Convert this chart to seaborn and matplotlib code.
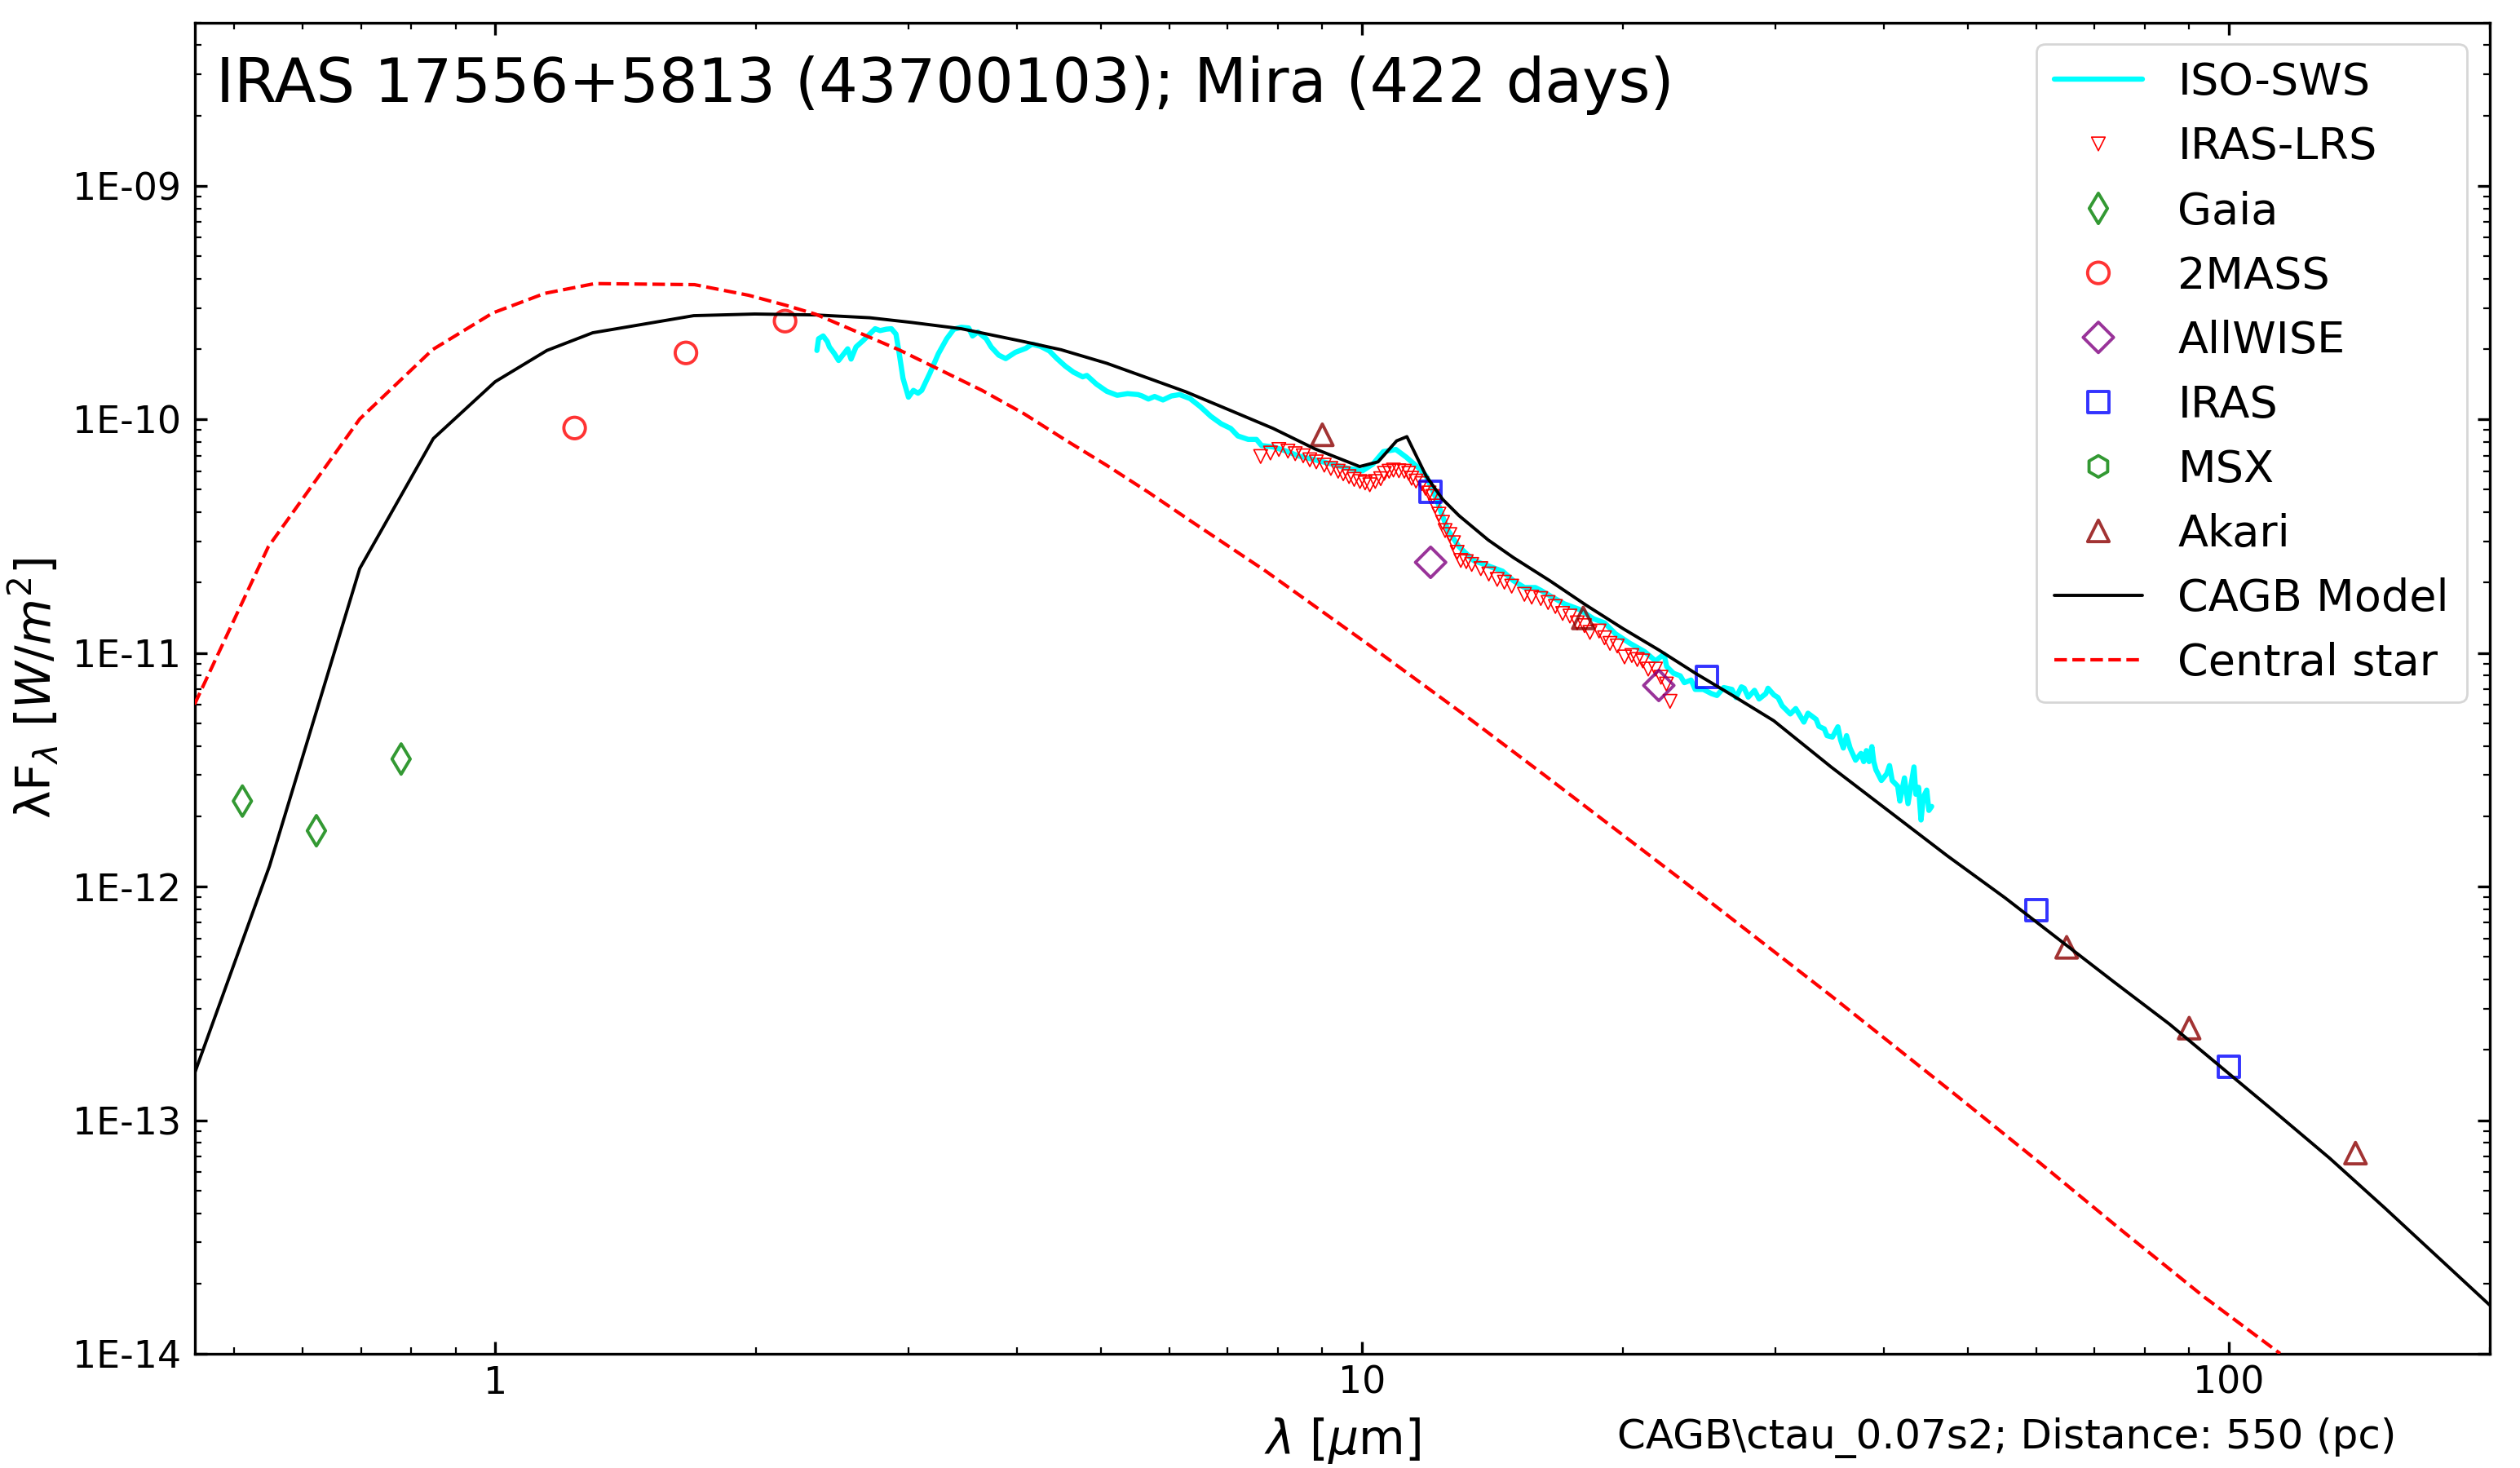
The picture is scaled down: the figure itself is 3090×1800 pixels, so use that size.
import numpy as np
import pandas as pd
import matplotlib
matplotlib.use("Agg")
import matplotlib.pyplot as plt
from matplotlib.ticker import LogLocator, NullFormatter
import seaborn as sns

# all spectra as log10(wavelength / um), log10(flux / W m-2)
iso_loglam = [.3712, .3731, .3784, .3832, .3856, .3914, .3962, .4010, .4067, .4106, .4163, .4250, .4312, .4384, .4441,
              .4513, .4571, .4624, .4657, .4705, .4768, .4825, .4878, .4921, .5017, .5113, .5209, .5291, .5377, .5463,
              .5507, .5569, .5665, .5722, .5809, .5890, .6001, .6121, .6193, .6289, .6394, .6481, .6577, .6672, .6778,
              .6826, .6936, .7056, .7176, .7296, .7416, .7464, .7536, .7608, .7704, .7800, .7896, .8016, .8136, .8256,
              .8376, .8486, .8568, .8688, .8783, .8841, .8975, .9119, .9263, .9455, .9647, .9839, 1.0007, 1.0127, 1.0247,
              1.0391, 1.0511, 1.0655, 1.0741, 1.0783, 1.0867, 1.0909, 1.0993, 1.1119, 1.1287, 1.1455, 1.1622, 1.1748,
              1.1874, 1.2000, 1.2063, 1.2168, 1.2336, 1.2504, 1.2672, 1.2798, 1.2924, 1.3092, 1.3260, 1.3386, 1.3484,
              1.3515, 1.3594, 1.3672, 1.3719, 1.3797, 1.3844, 1.3938, 1.4032, 1.4095, 1.4173, 1.4268, 1.4315, 1.4377,
              1.4409, 1.4456, 1.4528, 1.4581, 1.4659, 1.4684, 1.4753, 1.4800, 1.4847, 1.4941, 1.5004, 1.5098, 1.5145,
              1.5239, 1.5271, 1.5333, 1.5365, 1.5427, 1.5490, 1.5521, 1.5553, 1.5590, 1.5631, 1.5694, 1.5756, 1.5788,
              1.5819, 1.5850, 1.5882, 1.5904, 1.5929, 1.5992, 1.6054, 1.6086, 1.6117, 1.6180, 1.6205, 1.6258, 1.6299,
              1.6368, 1.6390, 1.6421, 1.6449, 1.6477, 1.6515, 1.6540, 1.6572]
iso_logflux = [-9.705, -9.655, -9.643, -9.667, -9.690, -9.719, -9.748, -9.725, -9.698, -9.742, -9.690, -9.661, -9.638,
               -9.612, -9.620, -9.614, -9.612, -9.635, -9.707, -9.824, -9.905, -9.876, -9.888, -9.876, -9.801, -9.719,
               -9.655, -9.614, -9.606, -9.609, -9.643, -9.626, -9.655, -9.690, -9.725, -9.740, -9.713, -9.696, -9.678,
               -9.687, -9.707, -9.740, -9.772, -9.798, -9.818, -9.812, -9.849, -9.880, -9.897, -9.890, -9.894, -9.900,
               -9.913, -9.902, -9.917, -9.900, -9.894, -9.911, -9.946, -9.987, -10.019, -10.039, -10.071, -10.086,
               -10.086, -10.112, -10.118, -10.135, -10.156, -10.173, -10.191, -10.210, -10.220, -10.191, -10.138,
               -10.129, -10.162, -10.208, -10.243, -10.278, -10.348, -10.394, -10.476, -10.545, -10.604, -10.627,
               -10.650, -10.691, -10.720, -10.720, -10.732, -10.755, -10.790, -10.813, -10.854, -10.871, -10.918,
               -10.959, -10.994, -11.034, -11.005, -11.058, -11.087, -11.098, -11.127, -11.116, -11.156, -11.156,
               -11.174, -11.182, -11.148, -11.156, -11.191, -11.145, -11.151, -11.189, -11.160, -11.197, -11.174,
               -11.151, -11.180, -11.191, -11.226, -11.261, -11.238, -11.296, -11.258, -11.284, -11.314, -11.325,
               -11.354, -11.360, -11.316, -11.372, -11.407, -11.354, -11.407, -11.459, -11.430, -11.465, -11.418,
               -11.465, -11.401, -11.465, -11.500, -11.546, -11.517, -11.482, -11.546, -11.570, -11.634, -11.535,
               -11.645, -11.488, -11.605, -11.575, -11.715, -11.616, -11.587, -11.674, -11.657]

lrs_loglam = [.8831, .8944, .9041, .9146, .9230, .9322, .9398, .9473, .9565, .9641, .9725, .9784, .9851, .9910, .9977,
              1.0036, 1.0090, 1.0153, 1.0216, 1.0258, 1.0313, 1.0363, 1.0426, 1.0489, 1.0539, 1.0573, 1.0623, 1.0691,
              1.0733, 1.0774, 1.0816, 1.0846, 1.0888, 1.0930, 1.0959, 1.1014, 1.1056, 1.1098, 1.1140, 1.1203, 1.1266,
              1.1371, 1.1463, 1.1560, 1.1643, 1.1727, 1.1874, 1.1958, 1.2063, 1.2147, 1.2231, 1.2315, 1.2399, 1.2483,
              1.2567, 1.2630, 1.2735, 1.2798, 1.2861, 1.2945, 1.3029, 1.3113, 1.3176, 1.3239, 1.3302, 1.3386, 1.3449,
              1.3512, 1.3554]
lrs_logflux = [-10.159, -10.144, -10.129, -10.136, -10.147, -10.156, -10.173, -10.182, -10.196, -10.210, -10.222,
               -10.233, -10.245, -10.257, -10.266, -10.272, -10.280, -10.266, -10.254, -10.231, -10.222, -10.217,
               -10.220, -10.222, -10.231, -10.252, -10.264, -10.275, -10.295, -10.315, -10.330, -10.371, -10.406,
               -10.441, -10.476, -10.493, -10.528, -10.569, -10.604, -10.609, -10.621, -10.639, -10.662, -10.685,
               -10.697, -10.714, -10.749, -10.761, -10.767, -10.784, -10.801, -10.831, -10.842, -10.871, -10.883,
               -10.912, -10.906, -10.935, -10.959, -10.970, -11.017, -11.011, -11.028, -11.034, -11.069, -11.069,
               -11.104, -11.133, -11.207]

model_loglam = [-.3468, -.2603, -.1562, -.0713, 0.0, .0597, .1125, .2291, .2996, .3698, .4321, .4801, .5377, .6097, .6529,
                .7056, .7536, .7968, .8496, .8976, .9455, .9973, 1.0185, 1.0400, 1.0518, 1.0741, 1.0930, 1.1119, 1.1455,
                1.1748, 1.2168, 1.2588, 1.3008, 1.3428, 1.3847, 1.4267, 1.4750, 1.5412, 1.6755, 1.7418, 1.8674, 1.9313,
                2.0474, 2.1161, 2.1800, 2.3008]
model_logflux = [-12.800, -11.912, -10.6385, -10.0822, -9.8389, -9.7051, -9.6294, -9.5561, -9.5491, -9.553, -9.565,
                 -9.585, -9.612, -9.667, -9.702, -9.760, -9.824, -9.882, -9.964, -10.039, -10.126, -10.202, -10.182,
                 -10.092, -10.074, -10.243, -10.342, -10.412, -10.516, -10.592, -10.691, -10.796, -10.895, -10.988,
                 -11.087, -11.180, -11.290, -11.488, -11.869, -12.048, -12.408, -12.588, -12.947, -13.162, -13.376,
                 -13.791]

star_loglam = [-.3468, -.2617, -.1562, -.0722, -.0027, .0573, .1149, .2300, .2924, .3356, .3698, .4178, .4657, .5137,
               .5617, .6097, .6577, .7056, .7536, .8016, .8496, .8891, 1.0052, 1.1211, 1.2105, 1.3750, 1.5427,
               1.6873, 1.7821, 1.8768, 1.9716, 2.0592]
star_logflux = [-11.22, -10.5454, -9.9984, -9.7016, -9.5445, -9.4607, -9.4188, -9.4234, -9.4688, -9.5119, -9.550,
                -9.626, -9.702, -9.789, -9.876, -9.975, -10.088, -10.197, -10.312, -10.433, -10.552, -10.650, -10.958,
                -11.273, -11.523, -11.989, -12.472, -12.899, -13.183, -13.473, -13.757, -13.999]

gaia_lam = [0.511, 0.622, 0.779]
gaia_logflux = [-11.634, -11.761, -11.454]
twomass_lam = [1.235, 1.66, 2.16]
twomass_logflux = [-10.037, -9.7156, -9.5794]
wise_lam = [12.0, 22.0]
wise_logflux = [-10.612, -11.139]
iras_lam = [12.0, 25.0, 60.0, 100.0]
iras_logflux = [-10.309, -11.102, -12.101, -12.772]
akari_lam = [9.0, 18.0, 65.0, 90.0, 140.0]
akari_logflux = [-10.066, -10.850, -12.260, -12.606, -13.141]

y_ticks = [1e-14, 1e-13, 1e-12, 1e-11, 1e-10, 1e-9]
y_labels = ['1E-14', '1E-13', '1E-12', '1E-11', '1E-10', '1E-09']
x_ticks = [1, 10, 100]
x_labels = ['1', '10', '100']

iso = pd.DataFrame({'lam': 10 ** np.array(iso_loglam), 'flux': 10 ** np.array(iso_logflux)})
lrs = pd.DataFrame({'lam': 10 ** np.array(lrs_loglam), 'flux': 10 ** np.array(lrs_logflux)})
model = pd.DataFrame({'lam': 10 ** np.array(model_loglam), 'flux': 10 ** np.array(model_logflux)})
star = pd.DataFrame({'lam': 10 ** np.array(star_loglam), 'flux': 10 ** np.array(star_logflux)})

sns.set_theme(style='ticks', rc={'font.family': 'DejaVu Sans', 'mathtext.default': 'it', 'text.color': 'black',
                                 'axes.labelcolor': 'black', 'xtick.color': 'black', 'ytick.color': 'black',
                                 'axes.edgecolor': 'black'})

fig = plt.figure(figsize=(15.45, 9), dpi=200)
ax = fig.add_axes([0.0772, 0.0778, 0.9108, 0.9069])

sns.lineplot(data=iso, x='lam', y='flux', color='cyan', lw=2.3, estimator=None, sort=False, label='ISO-SWS', zorder=2, ax=ax)
sns.scatterplot(data=lrs, x='lam', y='flux', marker='v', s=36, facecolors='none', edgecolor='red', linewidth=0.6,
                label='IRAS-LRS', zorder=3, ax=ax)


def photometry(lam, logflux, marker, colour, name):
    sns.scatterplot(x=lam, y=10 ** np.array(logflux), marker=marker, s=90, facecolors='none', edgecolor=colour,
                    linewidth=1.4, alpha=0.8, label=name, zorder=3, ax=ax)


photometry(gaia_lam, gaia_logflux, 'd', 'green', 'Gaia')
photometry(twomass_lam, twomass_logflux, 'o', 'red', '2MASS')
photometry(wise_lam, wise_logflux, 'D', 'purple', 'AllWISE')
photometry(iras_lam, iras_logflux, 's', 'blue', 'IRAS')
# no MSX fluxes for this source, only the legend entry
ax.scatter([], [], marker='h', s=90, facecolors='none', edgecolors='green', linewidths=1.4, alpha=0.8, label='MSX')
photometry(akari_lam, akari_logflux, '^', 'darkred', 'Akari')

sns.lineplot(data=model, x='lam', y='flux', color='black', lw=1.4, estimator=None, sort=False, label='CAGB Model', zorder=4, ax=ax)
sns.lineplot(data=star, x='lam', y='flux', color='red', lw=1.5, ls='--', estimator=None, sort=False, label='Central star', zorder=4, ax=ax)

ax.set_xscale('log')
ax.set_yscale('log')
ax.set_xlim(0.45, 200)
ax.set_ylim(1e-14, 5e-9)
ax.set_xticks(x_ticks, x_labels)
ax.set_yticks(y_ticks, y_labels)
ax.xaxis.set_minor_locator(LogLocator(base=10, subs=np.arange(2, 10), numticks=20))
ax.yaxis.set_minor_locator(LogLocator(base=10, subs=np.arange(2, 10), numticks=20))
ax.xaxis.set_minor_formatter(NullFormatter())
ax.yaxis.set_minor_formatter(NullFormatter())
ax.tick_params(which='major', direction='in', top=True, right=True, length=5.5, width=1.2, labelsize=16.5)
ax.tick_params(axis='x', which='major', pad=5)
ax.tick_params(axis='y', which='major', pad=6)
ax.tick_params(which='minor', direction='in', top=True, right=True, length=3, width=0.8)
for side in ax.spines.values():
    side.set_linewidth(1.2)

ax.set_xlabel(r'$\lambda$ [$\mu$m]', fontsize=21, labelpad=6)
ax.set_ylabel('λF$_{\\lambda}$ [$W/m^2$]', fontsize=21)
ax.yaxis.set_label_coords(-0.0585, 0.5)
ax.text(0.0095, 0.9528, 'IRAS 17556+5813 (43700103); Mira (422 days)', transform=ax.transAxes, fontsize=27, va='center')
fig.text(0.6416, 0.0208, 'CAGB\\ctau_0.07s2; Distance: 550 (pc)', fontsize=18, va='center')
ax.legend(loc='upper right', fontsize=19.5, bbox_to_anchor=(0.99, 0.984), borderaxespad=0, scatteryoffsets=[0.5])

fig.savefig('out.png', dpi=200)
